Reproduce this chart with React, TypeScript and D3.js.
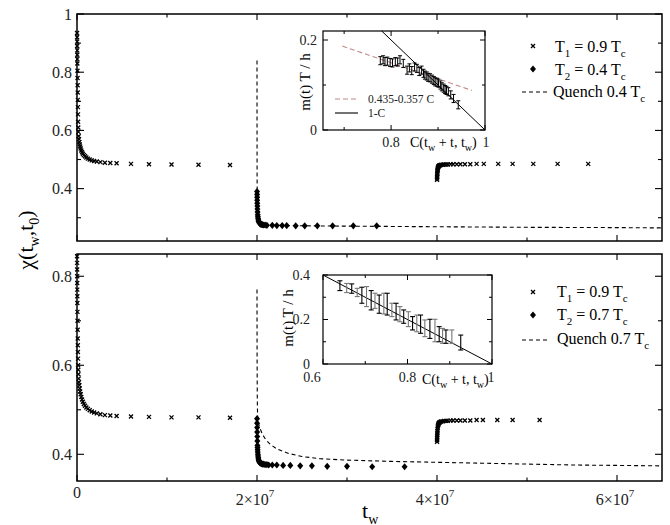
import React from "react";
import * as d3 from "d3";

// ---------- data (tw in units of 1e7) ----------
const xMajorTicks = [0, 2, 4, 6];
const xMinorTicks = [1, 3, 5];
const topYMajor = [0.4, 0.6, 0.8, 1.0];
const topYMinor = [0.3, 0.5, 0.7, 0.9];
const botYMajor = [0.4, 0.6, 0.8];
const botYMinor = [0.5, 0.7];

const t1A_t = [0.0005,0.001,0.0015,0.002,0.0025,0.003,0.0035,0.004,0.005,0.006,0.007,0.008,0.009,0.010,0.011,0.012,0.014,0.016,0.019,0.022,0.026,0.030,0.035,0.041,0.048,0.056,0.065,0.076,0.089,0.104,0.121,0.141,0.164,0.19,0.22,0.26,0.31,0.37,0.44,0.6,0.8,1.05,1.35,1.7];
const topT1A = [0.935,0.92,0.905,0.89,0.875,0.86,0.845,0.83,0.805,0.78,0.755,0.73,0.705,0.68,0.655,0.63,0.61,0.595,0.58,0.57,0.56,0.552,0.545,0.538,0.531,0.525,0.52,0.515,0.511,0.507,0.503,0.5,0.497,0.495,0.493,0.491,0.489,0.488,0.487,0.485,0.484,0.483,0.482,0.481];
const botT1A = [0.845,0.83,0.815,0.80,0.785,0.77,0.755,0.74,0.72,0.70,0.68,0.66,0.645,0.63,0.615,0.60,0.59,0.58,0.57,0.562,0.555,0.548,0.541,0.535,0.529,0.523,0.518,0.513,0.509,0.505,0.502,0.499,0.496,0.494,0.492,0.49,0.488,0.487,0.486,0.485,0.484,0.483,0.483,0.482];

const topT2_t = [2.0005,2.001,2.0015,2.002,2.003,2.004,2.005,2.006,2.008,2.010,2.012,2.015,2.018,2.022,2.027,2.033,2.04,2.05,2.06,2.075,2.09,2.11,2.17,2.22,2.28,2.33,2.43,2.53,2.67,2.84,3.07,3.33];
const topT2 = [0.39,0.38,0.37,0.36,0.35,0.34,0.33,0.32,0.31,0.303,0.297,0.292,0.288,0.285,0.282,0.28,0.278,0.277,0.276,0.275,0.275,0.274,0.274,0.273,0.273,0.273,0.272,0.272,0.272,0.272,0.272,0.272];

const botT2_t = [2.0005,2.001,2.0015,2.002,2.003,2.004,2.005,2.006,2.007,2.008,2.010,2.012,2.014,2.017,2.02,2.024,2.028,2.033,2.04,2.05,2.06,2.075,2.09,2.11,2.13,2.17,2.22,2.29,2.37,2.48,2.61,2.78,3.0,3.28,3.64];
const botT2 = [0.48,0.47,0.46,0.45,0.44,0.43,0.42,0.415,0.41,0.405,0.40,0.396,0.392,0.389,0.386,0.384,0.382,0.381,0.38,0.379,0.378,0.378,0.377,0.377,0.376,0.376,0.376,0.375,0.375,0.374,0.374,0.373,0.373,0.372,0.372];

const topT1B_t = [4.0005,4.001,4.0015,4.002,4.003,4.004,4.005,4.006,4.008,4.010,4.013,4.016,4.02,4.025,4.03,4.04,4.05,4.065,4.08,4.1,4.12,4.15,4.18,4.22,4.26,4.31,4.37,4.44,4.52,4.68,4.84,5.07,5.34,5.68];
const topT1B = [0.43,0.435,0.44,0.445,0.45,0.455,0.46,0.464,0.468,0.471,0.474,0.476,0.478,0.479,0.48,0.481,0.482,0.482,0.483,0.483,0.483,0.484,0.484,0.484,0.484,0.484,0.484,0.485,0.485,0.485,0.485,0.485,0.485,0.485];

const botT1B_t = [4.0005,4.001,4.0015,4.002,4.003,4.004,4.005,4.006,4.008,4.010,4.013,4.016,4.02,4.025,4.03,4.04,4.05,4.065,4.08,4.1,4.12,4.15,4.18,4.22,4.26,4.31,4.37,4.44,4.51,4.67,4.84,5.14];
const botT1B = [0.428,0.432,0.436,0.44,0.444,0.448,0.452,0.456,0.46,0.463,0.466,0.468,0.47,0.471,0.472,0.473,0.474,0.474,0.475,0.475,0.475,0.476,0.476,0.476,0.476,0.476,0.476,0.477,0.477,0.477,0.477,0.477];

const topQuench_t = [2.0,2.0005,2.001,2.002,2.004,2.007,2.01,2.015,2.02,2.03,2.05,2.08,2.15,2.3,2.6,3.0,3.5,4.0,5.0,6.0,6.5];
const topQuench = [0.84,0.6,0.45,0.39,0.355,0.325,0.305,0.294,0.288,0.283,0.279,0.277,0.275,0.273,0.272,0.271,0.27,0.269,0.267,0.266,0.265];

const botQuench_t = [2.0,2.001,2.003,2.006,2.01,2.03,2.06,2.1,2.15,2.22,2.35,2.5,2.7,3.0,3.5,4.0,4.5,5.0,5.5,6.0,6.5];
const botQuench = [0.77,0.62,0.53,0.49,0.475,0.46,0.445,0.432,0.422,0.412,0.402,0.395,0.39,0.387,0.384,0.382,0.38,0.378,0.376,0.375,0.374];

// inset (top): C, m T/h
const inTopC = [0.777,0.783,0.787,0.792,0.798,0.803,0.809,0.814,0.819,0.826,0.834,0.839,0.844,0.85,0.855,0.86,0.865,0.869,0.872,0.876,0.879,0.883,0.887,0.891,0.894,0.898,0.901,0.905,0.908,0.912,0.915,0.918,0.922,0.927,0.933,0.943];
const inTopV = [0.154,0.156,0.152,0.153,0.150,0.149,0.152,0.151,0.156,0.148,0.133,0.138,0.132,0.140,0.137,0.130,0.133,0.126,0.122,0.120,0.117,0.116,0.113,0.110,0.107,0.106,0.104,0.100,0.096,0.093,0.090,0.088,0.085,0.078,0.070,0.056];
const inTopErr = 0.009;

// inset (bottom): C, low, high
const inBotC = [0.640,0.656,0.668,0.681,0.692,0.703,0.714,0.723,0.733,0.744,0.752,0.763,0.773,0.782,0.791,0.802,0.812,0.822,0.831,0.841,0.853,0.865,0.875,0.883,0.891,0.905,0.926];
const inBotHi = [0.374,0.362,0.360,0.340,0.345,0.348,0.330,0.318,0.310,0.318,0.318,0.273,0.273,0.258,0.243,0.235,0.213,0.220,0.220,0.198,0.201,0.201,0.168,0.160,0.153,0.153,0.130];
const inBotLo = [0.330,0.321,0.318,0.303,0.273,0.258,0.243,0.250,0.228,0.225,0.220,0.213,0.198,0.190,0.183,0.168,0.153,0.145,0.138,0.123,0.115,0.100,0.100,0.093,0.093,0.093,0.063];

const fitA = 0.435, fitB = 0.357;

// ---------- layout ----------
const X0 = 77, X1 = 662;
const x = d3.scaleLinear().domain([0, 6.5]).range([X0, X1]);
const yT = d3.scaleLinear().domain([0.22, 1]).range([241, 14]);
const yB = d3.scaleLinear().domain([0.34, 0.85]).range([481, 254]);

const xiT = d3.scaleLinear().domain([0.655, 1]).range([323, 485]);
const yiT = d3.scaleLinear().domain([0, 0.22]).range([130, 31]);
const xiB = d3.scaleLinear().domain([0.6, 1]).range([323, 492]);
const yiB = d3.scaleLinear().domain([0, 0.4]).range([364, 275]);

const SERIF = "'Liberation Serif', 'Times New Roman', serif";

const crossPath = "M-2,-2L2,2M-2,2L2,-2";
const diamondPath = "M0,-3.6L3,0L0,3.6L-3,0Z";

function Crosses({ ts, vs, y }: { ts: number[]; vs: number[]; y: any }) {
  return (
    <g>
      {ts.map((t, i) => (
        <path key={i} d={crossPath} transform={`translate(${x(t)},${y(vs[i])})`} stroke="#000" strokeWidth={1.3} fill="none" />
      ))}
    </g>
  );
}
function Diamonds({ ts, vs, y }: { ts: number[]; vs: number[]; y: any }) {
  return (
    <g>
      {ts.map((t, i) => (
        <path key={i} d={diamondPath} transform={`translate(${x(t)},${y(vs[i])})`} fill="#000" />
      ))}
    </g>
  );
}
function Dashed({ ts, vs, y }: { ts: number[]; vs: number[]; y: any }) {
  const line = d3.line<number>().x((t) => x(t)).y((_, i) => y(vs[i]));
  return <path d={line(ts) || ""} fill="none" stroke="#000" strokeWidth={1.1} strokeDasharray="4,3" />;
}

function Frame({ y, yMaj, yMin, labels }: { y: any; yMaj: number[]; yMin: number[]; labels: boolean }) {
  const [yb, yt] = y.range();
  return (
    <g>
      <rect x={X0} y={yt} width={X1 - X0} height={yb - yt} fill="none" stroke="#000" strokeWidth={1.5} />
      {xMajorTicks.concat(xMinorTicks).map((t) => {
        const L = xMajorTicks.includes(t) ? 6 : 3.5;
        return (
          <g key={"x" + t}>
            <line x1={x(t)} x2={x(t)} y1={yb} y2={yb - L} stroke="#000" strokeWidth={1.1} />
            <line x1={x(t)} x2={x(t)} y1={yt} y2={yt + L} stroke="#000" strokeWidth={1.1} />
          </g>
        );
      })}
      {yMaj.concat(yMin).map((v) => {
        const L = yMaj.includes(v) ? 7 : 4;
        return (
          <g key={"y" + v}>
            <line x1={X0} x2={X0 + L} y1={y(v)} y2={y(v)} stroke="#000" strokeWidth={1.1} />
            <line x1={X1} x2={X1 - L} y1={y(v)} y2={y(v)} stroke="#000" strokeWidth={1.1} />
          </g>
        );
      })}
      {yMaj.map((v) => (
        <text key={"l" + v} x={72} y={y(v)} dy="0.35em" textAnchor="end" fontSize={16} fill="#222">
          {v === 1 ? "1" : String(v)}
        </text>
      ))}
    </g>
  );
}

function Tsub({ x: tx, y: ty, main, sub, rest, sub2 }: any) {
  return (
    <text x={tx} y={ty} fontSize={16} fill="#000">
      {main}
      <tspan dy={5} fontSize={11}>{sub}</tspan>
      <tspan dy={-5}>{rest}</tspan>
      <tspan dy={5} fontSize={11}>{sub2}</tspan>
    </text>
  );
}

function InsetTicks({ xs, ys, xMaj, xMin, yMaj, yMin }: any) {
  const [xl, xr] = xs.range();
  const [yb, yt] = ys.range();
  return (
    <g>
      <rect x={xl} y={yt} width={xr - xl} height={yb - yt} fill="#fff" stroke="#000" strokeWidth={1.2} />
      {xMaj.concat(xMin).map((c: number) => {
        const L = xMaj.includes(c) ? 5 : 3;
        return (
          <g key={"ix" + c}>
            <line x1={xs(c)} x2={xs(c)} y1={yb} y2={yb - L} stroke="#000" />
            <line x1={xs(c)} x2={xs(c)} y1={yt} y2={yt + L} stroke="#000" />
          </g>
        );
      })}
      {yMaj.concat(yMin).map((v: number) => {
        const L = yMaj.includes(v) ? 5 : 3;
        return (
          <g key={"iy" + v}>
            <line x1={xl} x2={xl + L} y1={ys(v)} y2={ys(v)} stroke="#000" />
            <line x1={xr} x2={xr - L} y1={ys(v)} y2={ys(v)} stroke="#000" />
          </g>
        );
      })}
    </g>
  );
}

function CLabel({ x: lx, y: ly }: { x: number; y: number }) {
  return (
    <text x={lx} y={ly} fontSize={14} fill="#000">
      C(t<tspan dy={4} fontSize={10}>w</tspan>
      <tspan dy={-4}> + t, t</tspan>
      <tspan dy={4} fontSize={10}>w</tspan>
      <tspan dy={-4}>)</tspan>
    </text>
  );
}

export default function App() {
  const fitLine = (c: number) => fitA - fitB * c;
  return (
    <svg width={670} height={525} style={{ position: "absolute", left: 0, top: 0, background: "#fff" }} fontFamily={SERIF}>
      <rect x={0} y={0} width={670} height={525} fill="#fff" />
      {/* top panel */}
      <Frame y={yT} yMaj={topYMajor} yMin={topYMinor} labels />
      <Dashed ts={topQuench_t} vs={topQuench} y={yT} />
      <Crosses ts={t1A_t} vs={topT1A} y={yT} />
      <Diamonds ts={topT2_t} vs={topT2} y={yT} />
      <Crosses ts={topT1B_t} vs={topT1B} y={yT} />

      {/* bottom panel */}
      <Frame y={yB} yMaj={botYMajor} yMin={botYMinor} labels />
      <Dashed ts={botQuench_t} vs={botQuench} y={yB} />
      <Crosses ts={t1A_t} vs={botT1A} y={yB} />
      <Diamonds ts={botT2_t} vs={botT2} y={yB} />
      <Crosses ts={botT1B_t} vs={botT1B} y={yB} />

      {/* x tick labels */}
      {xMajorTicks.map((t) =>
        t === 0 ? (
          <text key={t} x={x(t)} y={498} textAnchor="middle" fontSize={16} fill="#222">0</text>
        ) : (
          <text key={t} x={x(t) - 2} y={505} textAnchor="middle" fontSize={16} fill="#222">
            {t}×10<tspan dy={-8} fontSize={11}>7</tspan>
          </text>
        )
      )}
      <text x={362} y={518} fontSize={22} fill="#000">
        t<tspan dy={6} fontSize={14}>w</tspan>
      </text>
      <text transform="translate(33,240) rotate(-90)" textAnchor="middle" fontSize={22} fill="#000">
        χ(t<tspan dy={6} fontSize={14}>w</tspan>
        <tspan dy={-6}>,t</tspan>
        <tspan dy={6} fontSize={14}>0</tspan>
        <tspan dy={-6}>)</tspan>
      </text>

      {/* legends */}
      <path d={crossPath} transform="translate(533,46)" stroke="#000" strokeWidth={1.3} fill="none" />
      <Tsub x={555} y={52} main="T" sub="1" rest=" = 0.9 T" sub2="c" />
      <path d={diamondPath} transform="translate(533,69)" fill="#000" />
      <Tsub x={555} y={75} main="T" sub="2" rest=" = 0.4 T" sub2="c" />
      <line x1={522} x2={547} y1={92} y2={92} stroke="#000" strokeWidth={1.1} strokeDasharray="4,3" />
      <Tsub x={553} y={97} main="Quench 0.4 T" sub="c" rest="" sub2="" />

      <path d={crossPath} transform="translate(533,292)" stroke="#000" strokeWidth={1.3} fill="none" />
      <Tsub x={557} y={297} main="T" sub="1" rest=" = 0.9 T" sub2="c" />
      <path d={diamondPath} transform="translate(533,315)" fill="#000" />
      <Tsub x={557} y={320} main="T" sub="2" rest=" = 0.7 T" sub2="c" />
      <line x1={522} x2={547} y1={340} y2={340} stroke="#000" strokeWidth={1.1} strokeDasharray="4,3" />
      <Tsub x={557} y={344} main="Quench 0.7 T" sub="c" rest="" sub2="" />

      {/* top inset */}
      <InsetTicks xs={xiT} ys={yiT} xMaj={[0.8, 1]} xMin={[0.7, 0.9]} yMaj={[0, 0.2]} yMin={[0.1]} />
      <line x1={xiT(0.696)} y1={yiT(fitLine(0.696))} x2={xiT(0.972)} y2={yiT(fitLine(0.972))} stroke="#c08a88" strokeWidth={1.1} strokeDasharray="5,3" />
      <line x1={xiT(0.78)} y1={yiT(0.22)} x2={xiT(1)} y2={yiT(0)} stroke="#000" strokeWidth={1} />
      {inTopC.map((c, i) => (
        <g key={i} stroke="#000" strokeWidth={1}>
          <line x1={xiT(c)} x2={xiT(c)} y1={yiT(inTopV[i] - inTopErr)} y2={yiT(inTopV[i] + inTopErr)} />
          <line x1={xiT(c) - 2} x2={xiT(c) + 2} y1={yiT(inTopV[i] - inTopErr)} y2={yiT(inTopV[i] - inTopErr)} />
          <line x1={xiT(c) - 2} x2={xiT(c) + 2} y1={yiT(inTopV[i] + inTopErr)} y2={yiT(inTopV[i] + inTopErr)} />
        </g>
      ))}
      <line x1={335} x2={358} y1={99} y2={99} stroke="#c08a88" strokeWidth={1.1} strokeDasharray="5,3" />
      <text x={368} y={103} fontSize={11.5} fill="#222">0.435-0.357 C</text>
      <line x1={335} x2={358} y1={113} y2={113} stroke="#000" strokeWidth={1.1} />
      <text x={368} y={117} fontSize={11.5} fill="#222">1-C</text>
      <text x={xiT(0.8)} y={147} textAnchor="middle" fontSize={14} fill="#222">0.8</text>
      <text x={486} y={147} textAnchor="middle" fontSize={14} fill="#222">1</text>
      <text x={317} y={yiT(0)} dy="0.35em" textAnchor="end" fontSize={14} fill="#222">0</text>
      <text x={317} y={yiT(0.2)} dy="0.35em" textAnchor="end" fontSize={14} fill="#222">0.2</text>
      <CLabel x={410} y={147} />
      <text transform="translate(310,82) rotate(-90)" textAnchor="middle" fontSize={15} fill="#000">m(t) T / h</text>

      {/* bottom inset */}
      <InsetTicks xs={xiB} ys={yiB} xMaj={[0.6, 0.8, 1]} xMin={[0.7, 0.9]} yMaj={[0, 0.2, 0.4]} yMin={[0.1, 0.3]} />
      <line x1={xiB(0.6)} y1={yiB(0.4)} x2={xiB(1)} y2={yiB(0)} stroke="#000" strokeWidth={1} />
      {inBotC.map((c, i) => {
        const col = i % 2 === 0 ? "#000" : "#777";
        return (
          <g key={i} stroke={col} strokeWidth={1.1}>
            <line x1={xiB(c)} x2={xiB(c)} y1={yiB(inBotLo[i])} y2={yiB(inBotHi[i])} />
            <line x1={xiB(c) - 2.5} x2={xiB(c) + 2.5} y1={yiB(inBotLo[i])} y2={yiB(inBotLo[i])} />
            <line x1={xiB(c) - 2.5} x2={xiB(c) + 2.5} y1={yiB(inBotHi[i])} y2={yiB(inBotHi[i])} />
          </g>
        );
      })}
      <text x={312} y={382} textAnchor="middle" fontSize={14} fill="#222">0.6</text>
      <text x={xiB(0.8)} y={382} textAnchor="middle" fontSize={14} fill="#222">0.8</text>
      <text x={491} y={382} textAnchor="middle" fontSize={14} fill="#222">1</text>
      <text x={310} y={yiB(0)} dy="0.35em" textAnchor="end" fontSize={14} fill="#222">0</text>
      <text x={310} y={yiB(0.2)} dy="0.35em" textAnchor="end" fontSize={14} fill="#222">0.2</text>
      <text x={310} y={yiB(0.4)} dy="0.35em" textAnchor="end" fontSize={14} fill="#222">0.4</text>
      <CLabel x={422} y={384} />
      <text transform="translate(293,318) rotate(-90)" textAnchor="middle" fontSize={15} fill="#000">m(t) T / h</text>
    </svg>
  );
}
